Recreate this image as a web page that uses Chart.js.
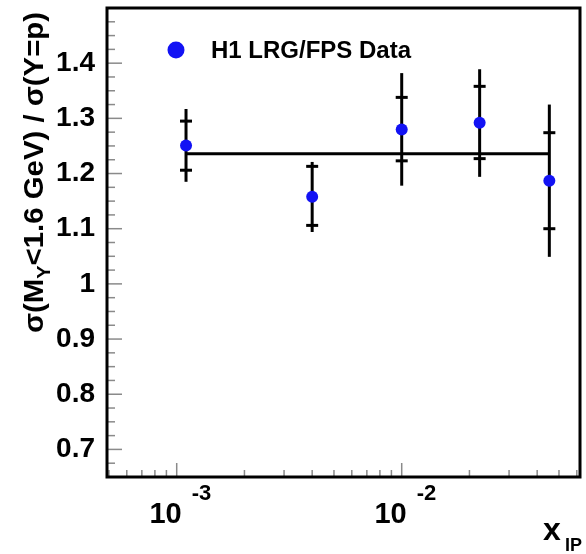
<!DOCTYPE html>
<html>
<head>
<meta charset="utf-8">
<script src="https://cdn.jsdelivr.net/npm/chart.js@4.4.1/dist/chart.umd.min.js"></script>
<style>
  html, body { margin: 0; padding: 0; background: #fff; }
  canvas { display: block; }
</style>
</head>
<body>
<canvas id="chart" width="586" height="554"></canvas>
<script>
// values
const xPom = [1.1e-3, 4.0e-3, 1.0e-2, 2.22e-2, 4.53e-2];
const ratio = [1.251, 1.158, 1.280, 1.292, 1.187];
const statLow = [1.206, 1.106, 1.223, 1.227, 1.100];
const statHigh = [1.295, 1.213, 1.338, 1.358, 1.274];
const totalLow = [1.185, 1.094, 1.178, 1.194, 1.049];
const totalHigh = [1.317, 1.221, 1.382, 1.389, 1.325];
const fitValue = 1.236;

const yTickLabels = [0.7, 0.8, 0.9, 1.0, 1.1, 1.2, 1.3, 1.4];
const xMajorTicks = [1e-3, 1e-2];
const xMajorExponents = ["-3", "-2"];
const legendLabel = "H1 LRG/FPS Data";

const FONT = '"Liberation Sans", Arial, Helvetica, sans-serif';
const BLUE = "#1212f4";

const rootStyle = {
  id: "rootStyle",
  beforeDatasetsDraw(chart) {
    const { ctx, scales: { x, y } } = chart;
    ctx.save();
    ctx.strokeStyle = "#000";
    ctx.lineWidth = 3;
    xPom.forEach((xv, i) => {
      const px = x.getPixelForValue(xv);
      ctx.beginPath();
      ctx.moveTo(px, y.getPixelForValue(totalLow[i]));
      ctx.lineTo(px, y.getPixelForValue(totalHigh[i]));
      ctx.stroke();
      [statLow[i], statHigh[i]].forEach((v) => {
        const py = y.getPixelForValue(v);
        ctx.beginPath();
        ctx.moveTo(px - 6, py);
        ctx.lineTo(px + 6, py);
        ctx.stroke();
      });
    });
    ctx.restore();
  },
  afterDraw(chart) {
    const { ctx, chartArea: area, scales: { x, y } } = chart;
    ctx.save();

    // tick marks, drawn inside the frame
    ctx.strokeStyle = "#8a8a8a";
    ctx.lineWidth = 1.5;
    for (let k = 26; k <= 60; k++) {
      const v = k * 0.025;
      const py = y.getPixelForValue(v);
      const len = k % 4 === 0 ? 15 : 8;
      ctx.beginPath();
      ctx.moveTo(area.left, py);
      ctx.lineTo(area.left + len, py);
      ctx.stroke();
    }
    for (let d = -4; d <= -1; d++) {
      for (let m = 1; m <= 9; m++) {
        const v = m * Math.pow(10, d);
        if (v < x.min || v > x.max) continue;
        const px = x.getPixelForValue(v);
        const len = m === 1 ? 14 : 7;
        ctx.beginPath();
        ctx.moveTo(px, area.bottom);
        ctx.lineTo(px, area.bottom - len);
        ctx.stroke();
      }
    }

    // frame
    ctx.strokeStyle = "#000";
    ctx.lineWidth = 3;
    ctx.strokeRect(area.left, area.top, area.right - area.left, area.bottom - area.top);

    // x tick labels 10^n
    ctx.fillStyle = "#000";
    ctx.textBaseline = "alphabetic";
    xMajorTicks.forEach((v, i) => {
      const px = x.getPixelForValue(v);
      ctx.font = "bold 29px " + FONT;
      ctx.textAlign = "right";
      ctx.fillText("10", px + 5, 523);
      ctx.font = "bold 22px " + FONT;
      ctx.textAlign = "left";
      ctx.fillText(xMajorExponents[i], px + 15, 500);
    });

    // x title
    ctx.textAlign = "left";
    ctx.font = "bold 32px " + FONT;
    ctx.fillText("x", 543, 540);
    ctx.font = "bold 18px " + FONT;
    ctx.fillText("IP", 565, 551);

    // y title, rotated
    const parts = [
      { t: "\u03c3(M", size: 28, dv: 0 },
      { t: "Y", size: 19, dv: 7 },
      { t: "<1.6 GeV) / \u03c3(Y=p)", size: 28, dv: 0 },
    ];
    let total = 0;
    parts.forEach((p) => {
      ctx.font = "bold " + p.size + "px " + FONT;
      p.w = ctx.measureText(p.t).width;
      total += p.w;
    });
    ctx.translate(43, 333);
    ctx.rotate(-Math.PI / 2);
    const k = 321 / total;
    ctx.scale(k, 1);
    let u = 0;
    parts.forEach((p) => {
      ctx.font = "bold " + p.size + "px " + FONT;
      ctx.fillText(p.t, u, p.dv);
      u += p.w;
    });
    ctx.setTransform(1, 0, 0, 1, 0, 0);

    // legend
    ctx.fillStyle = BLUE;
    ctx.beginPath();
    ctx.arc(176, 50, 8.5, 0, Math.PI * 2);
    ctx.fill();
    ctx.fillStyle = "#000";
    ctx.font = "bold 24px " + FONT;
    ctx.fillText(legendLabel, 211, 58);

    ctx.restore();
  },
};

new Chart(document.getElementById("chart"), {
  type: "scatter",
  data: {
    datasets: [
      {
        label: legendLabel,
        data: xPom.map((xv, i) => ({ x: xv, y: ratio[i] })),
        pointRadius: 6,
        pointBackgroundColor: BLUE,
        pointBorderWidth: 0,
        showLine: false,
        order: 0,
      },
      {
        label: "fit",
        type: "line",
        data: [
          { x: xPom[0], y: fitValue },
          { x: xPom[xPom.length - 1], y: fitValue },
        ],
        borderColor: "#000",
        borderWidth: 3,
        pointRadius: 0,
        order: 1,
      },
    ],
  },
  options: {
    responsive: false,
    animation: false,
    layout: { padding: { top: 8, right: 4, left: 0, bottom: 0 } },
    plugins: { legend: { display: false }, tooltip: { enabled: false } },
    scales: {
      x: {
        type: "logarithmic",
        min: 4.9e-4,
        max: 0.062,
        ticks: { display: false },
        grid: { display: false, drawTicks: false },
        border: { display: false },
        afterFit: (scale) => {
          scale.height = 77;
          scale.paddingLeft = 0;
          scale.paddingRight = 0;
        },
      },
      y: {
        type: "linear",
        min: 0.65,
        max: 1.5,
        afterBuildTicks: (scale) => {
          scale.ticks = yTickLabels.map((v) => ({ value: v }));
        },
        ticks: {
          color: "#000",
          padding: 12,
          autoSkip: false,
          font: { family: FONT, size: 28, weight: "bold" },
          callback: (v) => String(v),
        },
        grid: { display: false, drawTicks: false },
        border: { display: false },
        afterFit: (scale) => {
          scale.width = 107;
          scale.paddingTop = 0;
          scale.paddingBottom = 0;
        },
      },
    },
  },
  plugins: [rootStyle],
});
</script>
</body>
</html>
